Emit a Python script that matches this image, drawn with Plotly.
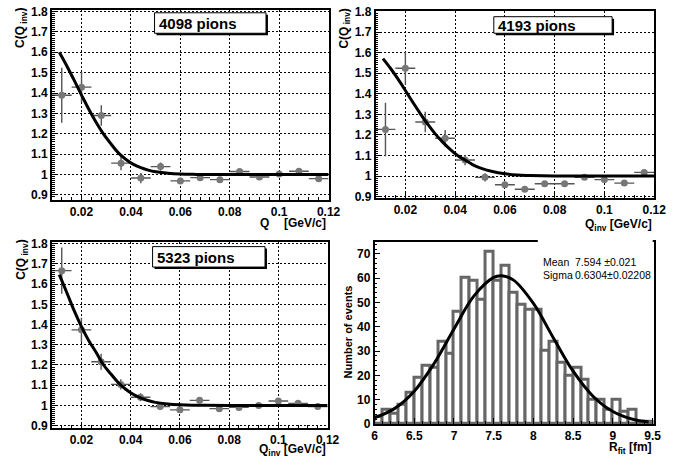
import plotly.graph_objects as go

W, H = 673, 466

# ---------------- data ----------------
q_bins = [0.012, 0.020, 0.028, 0.036, 0.044, 0.052, 0.060,
          0.068, 0.076, 0.084, 0.092, 0.100, 0.108, 0.116]
q_half_width = 0.004

c1 = [1.389, 1.429, 1.290, 1.056, 0.983, 1.039, 0.969,
      0.985, 0.975, 1.015, 0.988, 1.003, 1.016, 0.980]
c1_err = [0.135, 0.075, 0.050, 0.035, 0.025, 0.020, 0.015,
          0.012, 0.010, 0.010, 0.010, 0.008, 0.008, 0.008]

c2 = [1.227, 1.524, 1.263, 1.184, 1.078, 0.994, 0.958,
      0.936, 0.963, 0.963, 0.994, 0.983, 0.966, 1.018]
c2_err = [0.130, 0.080, 0.050, 0.040, 0.025, 0.020, 0.015,
          0.012, 0.010, 0.010, 0.010, 0.008, 0.008, 0.008]

c3 = [1.667, 1.374, 1.216, 1.104, 1.040, 0.994, 0.978,
      1.025, 0.984, 0.990, 1.000, 1.022, 1.010, 0.994]
c3_err = [0.115, 0.060, 0.040, 0.025, 0.020, 0.015, 0.012,
          0.010, 0.010, 0.008, 0.008, 0.008, 0.008, 0.008]

fit_q = [0.011, 0.014, 0.017, 0.020, 0.023, 0.026, 0.029, 0.032, 0.035,
         0.038, 0.041, 0.044, 0.047, 0.050, 0.055, 0.060, 0.065, 0.070,
         0.080, 0.100, 0.120]
fit1_c = [1.600, 1.534, 1.463, 1.390, 1.319, 1.254, 1.197, 1.149, 1.105,
          1.074, 1.050, 1.034, 1.022, 1.014, 1.007, 1.003, 1.001, 1.000,
          1.000, 1.000, 1.000]
fit2_c = [1.571, 1.524, 1.472, 1.416, 1.359, 1.304, 1.252, 1.205, 1.165,
          1.130, 1.100, 1.078, 1.056, 1.040, 1.022, 1.011, 1.005, 1.003,
          1.001, 1.000, 1.000]
fit3_c = [1.647, 1.560, 1.470, 1.390, 1.320, 1.262, 1.200, 1.155, 1.112,
          1.080, 1.055, 1.037, 1.024, 1.015, 1.007, 1.003, 1.001, 1.001,
          1.000, 1.000, 1.000]

r_counts = [3, 6, 4, 8, 13, 19, 24, 23, 34, 29,
            46, 60, 59, 51, 71, 59, 65, 54, 49, 47,
            47, 30, 34, 25, 20, 23, 18, 10, 10, 6,
            10, 5, 6, 0, 1]
r_first_center = 6.05
r_bin_width = 0.1

gauss_r = [6.0, 6.25, 6.5, 6.75, 7.0, 7.25, 7.5, 7.6, 7.75, 8.0,
           8.25, 8.5, 8.75, 9.0, 9.25, 9.45]
gauss_n = [2.5, 6.3, 13.5, 24.9, 39.1, 52.6, 60.3, 61.0, 59.2, 49.6,
           35.5, 21.7, 11.4, 5.1, 1.9, 0.8]

panel_labels = ["4098 pions", "4193 pions", "5323 pions"]
stat_names = ["Mean", "Sigma"]
stat_values = ["7.594 \u00b10.021", "0.6304\u00b10.02208"]

# ---------------- helpers ----------------
def px(x):
    return x / W

def py(y):
    return 1 - y / H

FONT = "Liberation Sans, Arial, Helvetica, sans-serif"
GRAY_M = "#777777"
GRAY_E = "#555555"

fig = go.Figure()

def add_corr(c, cerr, fitc, n):
    xa = "x" if n == 1 else f"x{n}"
    ya = "y" if n == 1 else f"y{n}"
    fig.add_trace(go.Scatter(
        x=q_bins, y=c, mode="markers", xaxis=xa, yaxis=ya,
        marker=dict(color=GRAY_M, size=7, symbol="circle"),
        error_y=dict(type="data", array=cerr, color=GRAY_E, thickness=1.4, width=0),
        error_x=dict(type="constant", value=q_half_width, color=GRAY_E, thickness=1.4, width=0),
        showlegend=False, hoverinfo="skip"))
    fig.add_trace(go.Scatter(
        x=fit_q, y=fitc, mode="lines", xaxis=xa, yaxis=ya,
        line=dict(color="black", width=3, shape="spline", smoothing=1.0),
        showlegend=False, hoverinfo="skip"))

add_corr(c1, c1_err, fit1_c, 1)
add_corr(c2, c2_err, fit2_c, 2)
add_corr(c3, c3_err, fit3_c, 3)

fig.add_trace(go.Bar(
    x0=r_first_center, dx=r_bin_width, y=r_counts, xaxis="x4", yaxis="y4",
    marker=dict(color="white", line=dict(color="#666666", width=3)),
    showlegend=False, hoverinfo="skip"))
fig.add_trace(go.Scatter(
    x=gauss_r, y=gauss_n, mode="lines", xaxis="x4", yaxis="y4",
    line=dict(color="black", width=3, shape="spline", smoothing=1.0),
    showlegend=False, hoverinfo="skip"))

tickfont = dict(family=FONT, size=12, color="black", weight="bold")

def axis(domain, rng, dtick, minor_dtick, anchor, grid=True):
    return dict(
        domain=domain, range=rng, anchor=anchor, dtick=dtick, tick0=0,
        ticks="inside", ticklen=6, tickwidth=1, tickcolor="black",
        minor=dict(dtick=minor_dtick, ticks="inside", ticklen=3,
                   tickcolor="black", tickwidth=1, showgrid=False),
        showline=True, linecolor="black", linewidth=1.5, mirror=True,
        showgrid=grid, gridcolor="black", griddash="2px,2px", gridwidth=1,
        zeroline=False, tickfont=tickfont, ticklabelstandoff=0)

fig.update_layout(
    width=W, height=H, margin=dict(l=0, r=0, t=0, b=0),
    paper_bgcolor="white", plot_bgcolor="white",
    bargap=0,
    xaxis=axis([px(50), px(333)], [0.008, 0.12], 0.02, 0.004, "y"),
    yaxis=axis([py(200), py(5)], [0.876, 1.808], 0.1, 0.01, "x"),
    xaxis2=axis([px(381), px(666)], [0.008, 0.12], 0.02, 0.004, "y2"),
    yaxis2=axis([py(198), py(6)], [0.894, 1.803], 0.1, 0.01, "x2"),
    xaxis3=axis([px(50), px(332)], [0.008, 0.12], 0.02, 0.004, "y3"),
    yaxis3=axis([py(434), py(243)], [0.889, 1.81], 0.1, 0.01, "x3"),
    xaxis4=axis([px(380), px(666)], [6, 9.52], 0.5, 0.1, "y4", grid=False),
    yaxis4=axis([py(430), py(243)], [0, 75], 10, 2, "x4", grid=False),
)

shapes = []
annotations = []

# title boxes
boxes = [(155, 8, 269, 29), (502, 12, 623, 29), (153, 248, 268, 269)]
for (x0, y0, x1, y1), label in zip(boxes, panel_labels):
    shapes.append(dict(type="rect", xref="paper", yref="paper",
                       x0=px(x0 + 2), x1=px(x1 + 2), y0=py(y1 + 2), y1=py(y0 + 2),
                       fillcolor="black", line=dict(width=0), layer="above"))
    shapes.append(dict(type="rect", xref="paper", yref="paper",
                       x0=px(x0), x1=px(x1), y0=py(y1), y1=py(y0),
                       fillcolor="white", line=dict(color="black", width=1), layer="above"))
    annotations.append(dict(text=label, xref="paper", yref="paper",
                            x=px(x0 + 2), y=py((y0 + y1) / 2 + 0.5),
                            xanchor="left", yanchor="middle", showarrow=False,
                            font=dict(family=FONT, size=15, color="black", weight="bold")))

# stats box cover (hides part of top frame of histogram)
shapes.append(dict(type="rect", xref="paper", yref="paper",
                   x0=px(547), x1=px(664.5), y0=py(246), y1=py(240),
                   fillcolor="white", line=dict(width=0), layer="above"))

tfont = dict(family=FONT, size=12, color="black", weight="bold")

def ann(text, x, y, xa="center", ya="middle", angle=0, font=tfont):
    annotations.append(dict(text=text, xref="paper", yref="paper", x=px(x), y=py(y),
                            xanchor=xa, yanchor=ya, showarrow=False, textangle=angle,
                            font=font, borderpad=0, borderwidth=0))

# y titles
ann("C(Q<sub> inv</sub>)", 19, 24, angle=-90)
ann("C(Q<sub> inv</sub>)", 350, 24, angle=-90)
ann("C(Q<sub> inv</sub>)", 20, 262, angle=-90)
ann("Number of events", 353, 336, angle=-90,
    font=dict(family=FONT, size=11, color="black", weight="bold"))

# x titles
ann("Q", 267, 224)
ann("[GeV/c]", 330, 224, xa="right")
ann("Q<sub>inv</sub> [GeV/c]", 664, 226, xa="right")
ann("Q<sub>inv</sub> [GeV/c]", 330, 457, xa="right")
ann("R<sub>fit</sub> [fm]", 664, 455, xa="right")

# stats text
sfont = dict(family=FONT, size=10.5, color="black")
for i, (nm, val) in enumerate(zip(stat_names, stat_values)):
    ann(nm, 552, 264 + 13 * i, xa="left", font=sfont)
    ann(val, 585, 264 + 13 * i, xa="left", font=sfont)

fig.update_layout(shapes=shapes, annotations=annotations)

fig.write_html("out.html")
